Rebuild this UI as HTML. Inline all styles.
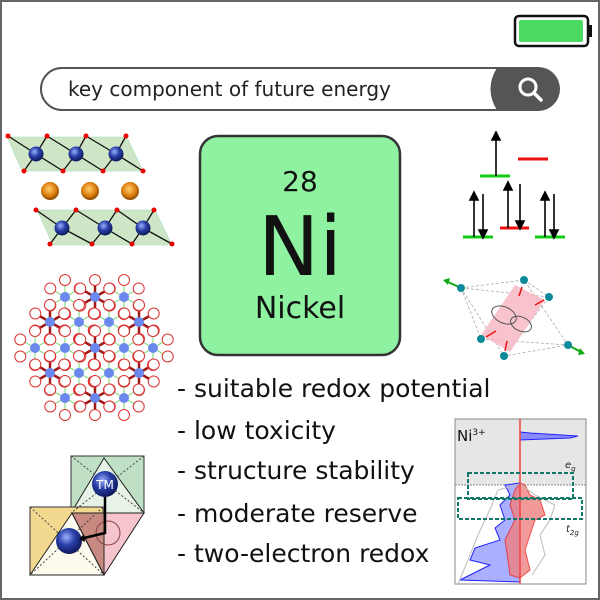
<!DOCTYPE html>
<html><head><meta charset="utf-8"><style>
html,body{margin:0;padding:0;background:#fff}
svg{display:block}
text{font-family:"DejaVu Sans","Liberation Sans",sans-serif}
</style></head><body>
<svg width="600" height="600" viewBox="0 0 600 600" xmlns="http://www.w3.org/2000/svg">
<defs>
<radialGradient id="bl" cx="40%" cy="35%" r="65%"><stop offset="0" stop-color="#9ab0ff"/><stop offset="0.5" stop-color="#2a3fa8"/><stop offset="1" stop-color="#0d1a5a"/></radialGradient>
<radialGradient id="or" cx="45%" cy="40%" r="60%"><stop offset="0" stop-color="#ffd070"/><stop offset="0.6" stop-color="#e08010"/><stop offset="1" stop-color="#8a4a00"/></radialGradient>
</defs>
<rect x="1" y="1" width="598" height="598" fill="#fff" stroke="#666" stroke-width="2"/>
<!-- battery -->
<rect x="515" y="16" width="73" height="30" rx="4" fill="#fff" stroke="#111" stroke-width="2.5"/>
<rect x="519" y="20" width="64" height="22" rx="2" fill="#4cd964"/>
<rect x="589" y="25" width="3" height="12" fill="#111"/>
<!-- search -->
<rect x="40" y="67" width="520" height="44" rx="22" fill="#555"/>
<path d="M62 68 H498 Q485 89 498 110 H62 A21 21 0 0 1 62 68Z" fill="#fff" stroke="#555" stroke-width="2"/>
<text x="68" y="96" font-size="20" fill="#222">key component of future energy</text>
<circle cx="528" cy="87" r="8" fill="none" stroke="#fff" stroke-width="3"/>
<line x1="534" y1="93" x2="541" y2="100" stroke="#fff" stroke-width="3.5" stroke-linecap="round"/>
<!-- Ni tile -->
<rect x="200" y="136" width="200" height="219" rx="18" fill="#8ef2a0" stroke="#333" stroke-width="2.5"/>
<text x="300" y="191" font-size="28" text-anchor="middle" fill="#111">28</text>
<text x="300" y="275" font-size="82" text-anchor="middle" fill="#111">Ni</text>
<text x="300" y="318" font-size="30" text-anchor="middle" fill="#111">Nickel</text>
<!-- bullets -->
<g font-size="25" fill="#111">
<text x="177" y="397">- suitable redox potential</text>
<text x="177" y="439">- low toxicity</text>
<text x="177" y="479">- structure stability</text>
<text x="177" y="522">- moderate reserve</text>
<text x="177" y="562">- two-electron redox</text>
</g>
<!-- layered structure -->
<g stroke="#111" stroke-width="1.3">
<polygon points="7,137 127,137 143,171 22,171" fill="#cfe6c6" stroke="#9db" stroke-width="0.5"/>
<polygon points="37,210 155,210 172,245 53,245" fill="#cfe6c6" stroke="#9db" stroke-width="0.5"/>
<polyline points="8,136 36,154 24,171" fill="none"/><polyline points="47,136 36,154 63,171" fill="none"/>
<polyline points="47,136 76,154 63,171" fill="none"/><polyline points="86,136 76,154 103,171" fill="none"/>
<polyline points="86,136 116,154 103,171" fill="none"/><polyline points="126,136 116,154 143,171" fill="none"/>
<polyline points="36,210 62,228 50,244" fill="none"/><polyline points="76,210 62,228 92,244" fill="none"/>
<polyline points="76,210 105,228 92,244" fill="none"/><polyline points="117,210 105,228 132,244" fill="none"/>
<polyline points="117,210 143,228 132,244" fill="none"/><polyline points="154,210 143,228 172,244" fill="none"/>
</g>
<g fill="#e00">
<circle cx="8" cy="136" r="2.5"/><circle cx="47" cy="136" r="2.5"/><circle cx="86" cy="136" r="2.5"/><circle cx="126" cy="136" r="2.5"/>
<circle cx="24" cy="171" r="2.5"/><circle cx="63" cy="171" r="2.5"/><circle cx="103" cy="171" r="2.5"/><circle cx="143" cy="171" r="2.5"/>
<circle cx="36" cy="210" r="2.5"/><circle cx="76" cy="210" r="2.5"/><circle cx="117" cy="210" r="2.5"/><circle cx="154" cy="210" r="2.5"/>
<circle cx="50" cy="244" r="2.5"/><circle cx="92" cy="244" r="2.5"/><circle cx="132" cy="244" r="2.5"/><circle cx="172" cy="244" r="2.5"/>
</g>
<g fill="url(#bl)"><circle cx="36" cy="154" r="7.5"/><circle cx="76" cy="154" r="7.5"/><circle cx="116" cy="154" r="7.5"/>
<circle cx="62" cy="228" r="7.5"/><circle cx="105" cy="228" r="7.5"/><circle cx="143" cy="228" r="7.5"/></g>
<g fill="url(#or)"><circle cx="50" cy="191" r="9"/><circle cx="90" cy="191" r="9"/><circle cx="130" cy="191" r="9"/></g>
<!-- hex net -->
<g id="net"></g>
<!-- energy levels -->
<g stroke-width="3">
<line x1="480" y1="176" x2="510" y2="176" stroke="#1c1"/>
<line x1="518" y1="159" x2="548" y2="159" stroke="#e11"/>
<line x1="463" y1="237" x2="493" y2="237" stroke="#1c1"/>
<line x1="500" y1="228" x2="529" y2="228" stroke="#e11"/>
<line x1="535" y1="237" x2="565" y2="237" stroke="#1c1"/>
</g>
<g stroke="#000" stroke-width="1.6" fill="#000">
<line x1="496" y1="176" x2="496" y2="138"/><polygon points="492,140 500,140 496,132"/>
<line x1="474" y1="237" x2="474" y2="198"/><polygon points="470,200 478,200 474,192"/>
<line x1="483" y1="194" x2="483" y2="232"/><polygon points="479,230 487,230 483,238"/>
<line x1="508" y1="228" x2="508" y2="188"/><polygon points="504,190 512,190 508,182"/>
<line x1="520" y1="184" x2="520" y2="223"/><polygon points="516,221 524,221 520,229"/>
<line x1="545" y1="237" x2="545" y2="198"/><polygon points="541,200 549,200 545,192"/>
<line x1="554" y1="194" x2="554" y2="232"/><polygon points="550,230 558,230 554,238"/>
</g>
<!-- octahedron -->
<g stroke="#aaa" stroke-width="0.8" stroke-dasharray="3,2" fill="none">
<polygon points="461,288 524,280 568,345 504,356"/><line x1="461" y1="288" x2="481" y2="339"/><line x1="481" y1="339" x2="568" y2="345"/><line x1="524" y1="280" x2="549" y2="297"/><line x1="549" y1="297" x2="504" y2="356"/><line x1="461" y1="288" x2="549" y2="297"/>
</g>
<polygon points="515,285 545,300 510,352 481,335" fill="#f8b8c4" opacity="0.85"/>
<ellipse cx="504" cy="315" rx="13" ry="8" fill="none" stroke="#555" transform="rotate(25 504 315)"/>
<ellipse cx="521" cy="324" rx="11" ry="7" fill="none" stroke="#555" transform="rotate(25 521 324)"/>
<g stroke="#e11" stroke-width="1.5"><line x1="522" y1="287" x2="519" y2="296"/><line x1="544" y1="300" x2="535" y2="305"/><line x1="486" y1="337" x2="496" y2="331"/><line x1="505" y1="351" x2="507" y2="341"/></g>
<g stroke="#1a1" stroke-width="2"><line x1="461" y1="288" x2="446" y2="281"/><line x1="568" y1="345" x2="581" y2="352"/></g>
<polygon points="443,280 450,278 448,285" fill="#1a1"/><polygon points="585,354 578,355 580,348" fill="#1a1"/>
<g fill="#0b8a9a"><circle cx="461" cy="288" r="4"/><circle cx="524" cy="280" r="4"/><circle cx="549" cy="297" r="4"/><circle cx="481" cy="339" r="4"/><circle cx="504" cy="356" r="4"/><circle cx="568" cy="345" r="4"/></g>
<!-- DOS plot -->
<rect x="455" y="419" width="131" height="66" fill="#e6e6e6"/>
<rect x="455" y="419" width="131" height="165" fill="none" stroke="#888" stroke-width="1"/>
<line x1="455" y1="485" x2="586" y2="485" stroke="#888" stroke-dasharray="2,1"/>
<text x="457" y="441" font-size="15" fill="#111">Ni<tspan font-size="9" dy="-6">3+</tspan></text>
<text x="565" y="468" font-size="10" font-style="italic" fill="#222">e<tspan font-size="7" dy="3">g</tspan></text>
<text x="566" y="532" font-size="10" font-style="italic" fill="#222">t<tspan font-size="7" dy="3">2g</tspan></text>
<path d="M520 432 L530 433 L578 436 L570 438 L520 440Z" fill="#8a8aff" stroke="#22f"/>
<path d="M520 483 L505 485 L510 495 L500 505 L505 520 L495 528 L500 540 L475 548 L470 560 L490 565 L460 580 L520 582Z" fill="#aab0ff" stroke="#22f"/>
<path d="M520 483 L515 490 L510 505 L515 520 L505 540 L508 560 L510 575 L520 578 L530 570 L525 550 L530 535 L535 520 L545 515 L540 500 L530 495 L525 485Z" fill="#f08080" opacity="0.8" stroke="#e22"/>
<path d="M520 484 L498 490 L492 505 L485 520 L478 535 L470 555 L458 584 M520 484 L535 495 L555 505 L550 520 L540 535 L545 555 L532 575" fill="none" stroke="#bbb"/>
<line x1="520" y1="419" x2="520" y2="584" stroke="#e44" stroke-width="1.5"/>
<rect x="468" y="473" width="105" height="26" fill="none" stroke="#176" stroke-width="2" stroke-dasharray="4,2"/>
<rect x="458" y="498" width="124" height="21" fill="none" stroke="#176" stroke-width="2" stroke-dasharray="4,2"/>
<!-- polyhedra -->
<rect x="71" y="456" width="73" height="57" fill="#bfe0c4" stroke="#333"/>
<polygon points="71,513 104,458 144,513" fill="#e6f3e6" stroke="#222"/>
<rect x="30" y="507" width="73" height="68" fill="#f3d890" stroke="#333"/>
<polygon points="30,575 72,513 104,575" fill="#fdfbee" stroke="#222"/>
<polygon points="72,513 144,513 104,575" fill="#f6c4cc" stroke="#222"/>
<polygon points="72,513 104,513 104,575" fill="#c88a80" stroke="#222"/>
<g stroke="#444" stroke-dasharray="2,2" fill="none"><line x1="71" y1="456" x2="144" y2="513"/><line x1="144" y1="456" x2="71" y2="513"/><line x1="30" y1="507" x2="104" y2="575"/><line x1="103" y1="507" x2="30" y2="575"/></g>
<circle cx="108" cy="533" r="12" fill="none" stroke="#844"/>
<circle cx="105" cy="484" r="13" fill="url(#bl)"/>
<text x="105" y="489" font-size="12" fill="#fff" text-anchor="middle">TM</text>
<circle cx="69" cy="541" r="13" fill="url(#bl)"/>
<polyline points="105,497 105,533 84,538" fill="none" stroke="#000" stroke-width="2.5"/>
<polygon points="84,534 79,539 85,542" fill="#000"/>
</svg>
<script>
var g=document.getElementById('net');
var rows=[[297,[65,95,124]],[322,[50,79,109,139]],[348,[35,65,95,124,153]],[373,[50,79,109,139]],[398,[65,95,124]]];
var heavy={'95,297':1,'50,322':1,'139,322':1,'95,348':1,'50,373':1,'139,373':1,'95,398':1};
var circ='',lines='',nodes='';
rows.forEach(function(r){r[1].forEach(function(x){var y=r[0];var h=heavy[x+','+y];
for(var k=0;k<6;k++){var a=(90+60*k)*Math.PI/180;var cx=x+17*Math.cos(a),cy=y-17*Math.sin(a);
lines+='<line x1="'+x+'" y1="'+y+'" x2="'+cx+'" y2="'+cy+'" stroke="'+(h?'#a01818':'#8d8')+'" stroke-width="'+(h?2.5:1.2)+'"/>';
circ+='<circle cx="'+cx+'" cy="'+cy+'" r="5.5" fill="#fff" stroke="#d33" stroke-width="1"/>';}
nodes+='<circle cx="'+x+'" cy="'+y+'" r="5" fill="#6a88ee"/>';});});
g.innerHTML=lines+circ+nodes;
</script>
</body></html>
